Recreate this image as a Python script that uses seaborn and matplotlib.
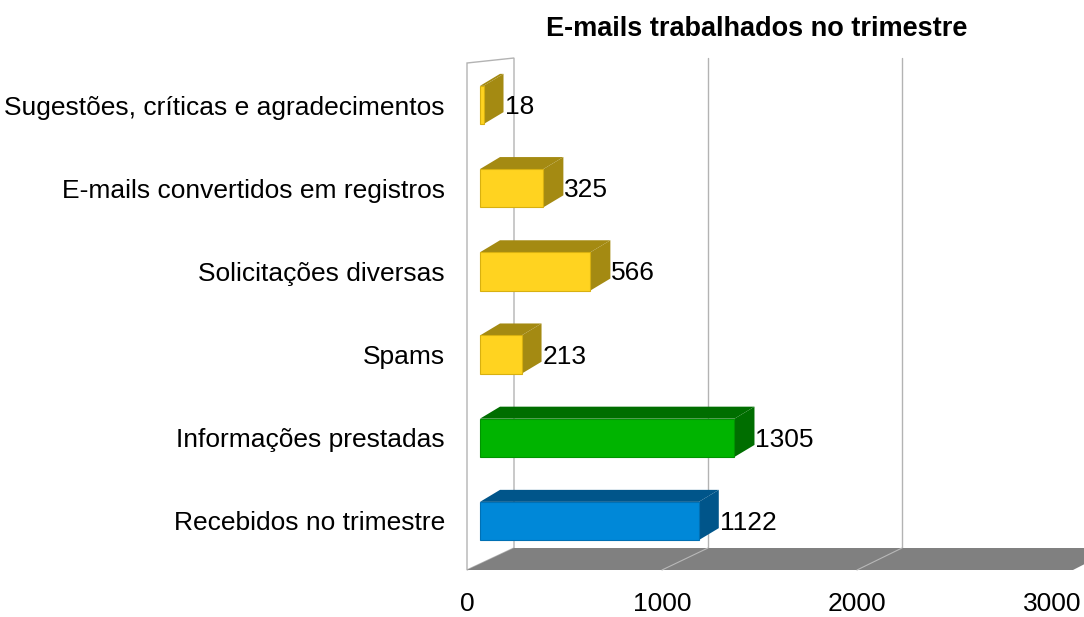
import matplotlib
matplotlib.use("Agg")
import matplotlib.pyplot as plt
from matplotlib.patches import Polygon
import seaborn as sns

categorias = [
    "Sugestões, críticas e agradecimentos",
    "E-mails convertidos em registros",
    "Solicitações diversas",
    "Spams",
    "Informações prestadas",
    "Recebidos no trimestre",
]
valores = [18, 325, 566, 213, 1305, 1122]
cor_frente = ["#ffd320", "#ffd320", "#ffd320", "#ffd320", "#00b400", "#0088d8"]
cor_lado = ["#a48a12", "#a48a12", "#a48a12", "#a48a12", "#006e00", "#00558a"]
cor_borda = ["#d8b010", "#d8b010", "#d8b010", "#d8b010", "#009400", "#0070b4"]
ticks_x = [0, 1000, 2000, 3000]

sns.set_theme(style="white")
plt.rcParams["font.family"] = ["Liberation Sans", "DejaVu Sans"]
plt.rcParams["text.color"] = "black"
plt.rcParams["xtick.color"] = "black"
plt.rcParams["ytick.color"] = "black"

W, H = 1084, 617
fig = plt.figure(figsize=(W / 100, H / 100), dpi=100)

# axes = plano frontal do grafico (em pixels da figura)
ax_l, ax_r, ax_t, ax_b = 467, 1052, 58, 570
ax = fig.add_axes([ax_l / W, (H - ax_b) / H, (ax_r - ax_l) / W, (ax_b - ax_t) / H])

sns.barplot(x=valores, y=categorias, hue=categorias, palette=cor_frente,
            saturation=1, legend=False, orient="h", width=0.46, ax=ax,
            zorder=4, linewidth=0.8)

px_x = (ax_r - ax_l) / 3000
px_y = 83.2
ax.set_xlim(0, 3000)
ax.set_ylim(5 + (ax_b - 521) / px_y, -(105 - ax_t) / px_y)


def dx(p):
    return p / px_x


def dy(p):
    return p / px_y


y_bottom = ax.get_ylim()[0]
y_top = ax.get_ylim()[1]


def back_x(v):
    return dx(514 - ax_l) + v * 0.194 / px_x


y_back = y_bottom - dy(22)

# chao
floor = Polygon([(0, y_bottom), (dx(1073 - ax_l), y_bottom),
                 (back_x(3000) + dx(20), y_back), (back_x(0), y_back)],
                closed=True, facecolor="#808080", edgecolor="none",
                zorder=1, clip_on=False)
ax.add_patch(floor)
for v in ticks_x[1:3]:
    ax.plot([v, back_x(v)], [y_bottom, y_back], color="#b8b8b8", lw=0.8,
            zorder=1.5, clip_on=False)

# parede
wall = Polygon([(0, y_bottom), (0, y_top + dy(5)), (back_x(0), y_top),
                (back_x(0), y_back)], closed=True, facecolor="white",
               edgecolor="#b3b3b3", lw=1, zorder=0.5, clip_on=False)
ax.add_patch(wall)

# linhas de grade na parede do fundo
for v in ticks_x[1:3]:
    ax.plot([back_x(v), back_x(v)], [y_back, y_top], color="#b3b3b3",
            lw=1, zorder=0.6, clip_on=False)

# faces 3D das barras
off = dx(13)
ddx, ddy = dx(20), -dy(12)
bars = [b for c in ax.containers for b in c]
bars.sort(key=lambda b: b.get_y())
for bar, lado, borda, v in zip(bars, cor_lado, cor_borda, valores):
    bar.set_x(bar.get_x() + off)
    bar.set_edgecolor(borda)
    x0 = bar.get_x()
    x1 = x0 + bar.get_width()
    yt = bar.get_y()
    yb = yt + bar.get_height()
    top = Polygon([(x0, yt), (x1, yt), (x1 + ddx, yt + ddy), (x0 + ddx, yt + ddy)],
                  closed=True, facecolor=lado, edgecolor="none", zorder=3)
    side = Polygon([(x1, yt), (x1, yb), (x1 + ddx, yb + ddy), (x1 + ddx, yt + ddy)],
                   closed=True, facecolor=lado, edgecolor="none", zorder=3)
    ax.add_patch(top)
    ax.add_patch(side)
    ax.text(x1 + ddx + dx(1), (yt + yb) / 2 + dy(2), str(v), ha="left",
            va="center", fontsize=19, color="black", zorder=5)

ax.set_xticks(ticks_x)
ax.set_xticklabels([str(t) for t in ticks_x])
ax.tick_params(axis="x", length=0, pad=16, labelsize=19)
ax.tick_params(axis="y", length=0, pad=16, labelsize=19)
for s in ax.spines.values():
    s.set_visible(False)
ax.set_xlabel("")
ax.set_ylabel("")
ax.patch.set_alpha(0)

fig.text(757 / W, 1 - 29 / H, "E-mails trabalhados no trimestre",
         ha="center", va="center", fontsize=19.5, fontweight="bold")

fig.savefig("out.png", dpi=100)
